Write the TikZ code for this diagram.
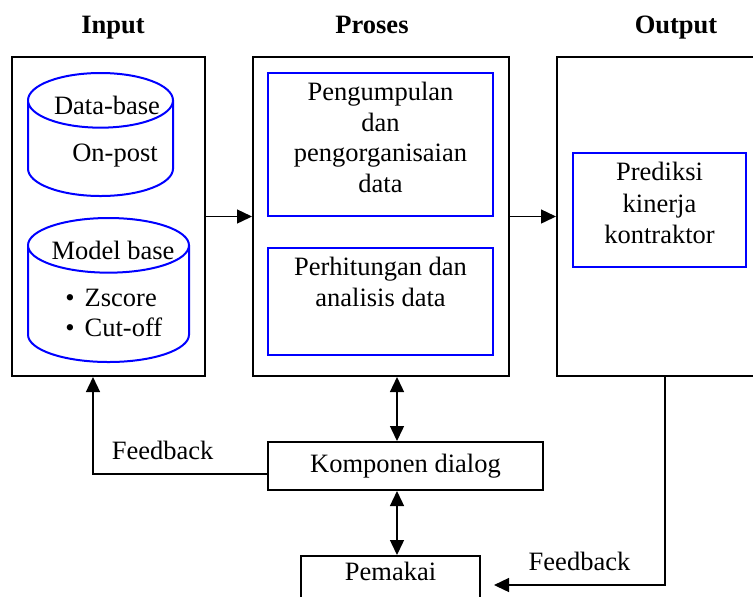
\documentclass[tikz,border=0pt]{standalone}
\usepackage{fontspec}
\setmainfont{Liberation Serif}
\usetikzlibrary{shapes.geometric, arrows.meta, positioning}

\tikzstyle{block} = [rectangle, draw=black, line width=1pt]
\tikzstyle{bluebox} = [rectangle, draw=blue, line width=1pt, text centered]
\tikzstyle{dbase} = [cylinder, shape border rotate=90, draw=blue, line width=1pt, aspect=4.1, anchor=north]
\tikzstyle{title} = [font=\fontsize{13.25pt}{15.25pt}\selectfont\bfseries, anchor=base]
\tikzstyle{arrow} = [line width=0.7pt, -{Triangle[length=7.5pt, width=7pt]}]
\tikzstyle{darrow} = [line width=0.7pt, {Triangle[length=7.5pt, width=7pt]}-{Triangle[length=7.5pt, width=7pt]}]

\begin{document}
\begin{tikzpicture}[x=0.5pt, y=-0.5pt, font=\fontsize{13.25pt}{15.25pt}\selectfont]
    \useasboundingbox (0,0) rectangle (753,596);
    \clip (0,0) rectangle (753,596);

    % three main columns
    \node (inbox) [block, minimum width=96.5pt, minimum height=159.5pt] at (108.5,216.5) {};
    \node (probox) [block, minimum width=128pt, minimum height=159.5pt] at (381,216.5) {};
    \node (outbox) [block, minimum width=108pt, minimum height=159.5pt] at (665,216.5) {};
    \node (tin) [title] at (113,33) {Input};
    \node (tpro) [title] at (372,33) {Proses};
    \node (tout) [title] at (676,33) {Output};

    % input: data base and model base
    \node (db) [dbase, minimum width=72.5pt, minimum height=61.5pt] at (100.5,72) {};
    \node (dbname) at ([xshift=3.25pt, yshift=-16.5pt]db.north) {Data-base};
    \node (dbsub) at ([xshift=7.25pt, yshift=-42pt]db.north) {On-post};
    \node (mb) [dbase, minimum width=80.5pt, minimum height=72pt] at (108.5,217) {};
    \node (mbname) at ([xshift=2.25pt, yshift=-16.5pt]mb.north) {Model base};
    \node (mblist) [anchor=west, inner sep=0pt, align=left] at (65,313) {\textbullet\hspace{5pt}Zscore\\\textbullet\hspace{5pt}Cut-off};

    % proses and output
    \node (kumpul) [bluebox, minimum width=112.5pt, minimum height=71.5pt, label={[align=center, anchor=north, yshift=-1.75pt]north:Pengumpulan\\dan\\pengorganisaian\\data}] at (380.5,144.5) {};
    \node (hitung) [bluebox, minimum width=112.5pt, minimum height=53.5pt, label={[align=center, anchor=north, yshift=-1.75pt]north:Perhitungan dan\\analisis data}] at (380.5,301.5) {};
    \node (prediksi) [bluebox, minimum width=86.5pt, minimum height=57pt, label={[align=center, anchor=north, yshift=-1.75pt, font=\fontsize{13.25pt}{15.75pt}\selectfont]north:Prediksi\\kinerja\\kontraktor}] at (659.5,210) {};

    \node (dialog) [block, minimum width=137.5pt, minimum height=24pt, below=32pt of probox, xshift=12.25pt] {Komponen dialog};
    \node (pemakai) [block, minimum width=89.5pt, minimum height=23pt, below=32pt of dialog, xshift=-7.5pt, label={[anchor=north]north:Pemakai}] {};

    \draw [arrow] (inbox) -- (probox);
    \draw [arrow] (probox) -- (outbox);
    \draw [darrow] ([xshift=8pt]probox.south) -- ([xshift=8pt]probox.south |- dialog.north);
    \draw [darrow] ([xshift=8pt]probox.south |- dialog.south) -- ([xshift=8pt]probox.south |- pemakai.north);
    \draw [arrow] ([yshift=-4pt]dialog.west) -| node (fbin) [pos=0.3, above=3.5pt] {Feedback} ([xshift=-7.75pt]inbox.south);
    \draw [arrow] (outbox.south) |- node (fbout) [pos=0.75, above=3.5pt] {Feedback} ([xshift=6.5pt, yshift=-3pt]pemakai.east);
\end{tikzpicture}
\end{document}
